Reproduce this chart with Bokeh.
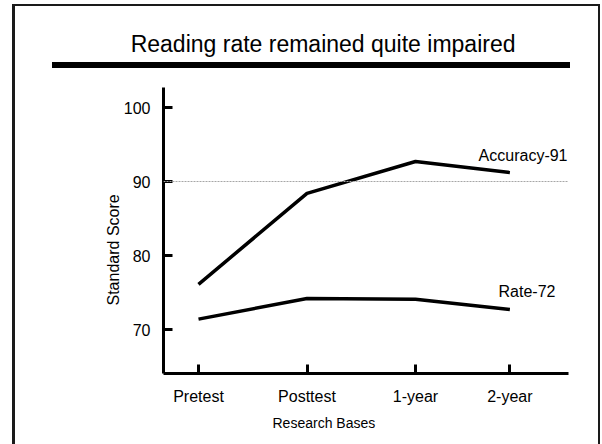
from bokeh.plotting import figure
from bokeh.models import Range1d, FixedTicker, Span, Label, Title
from bokeh.embed import file_html
from bokeh.resources import INLINE

# ---- data ----
phases = ["Pretest", "Posttest", "1-year", "2-year"]
phase_pos = [0.0, 1.0, 2.0, 2.87]
accuracy = [76.1, 88.4, 92.7, 91.2]
rate = [71.4, 74.2, 74.1, 72.7]
y_ticks = [70, 80, 90, 100]
reference_score = 90
series_names = ["Accuracy-91", "Rate-72"]
title_text = "Reading rate remained quite impaired"
x_title = "Research Bases"
y_title = "Standard Score"

FONT = "Liberation Sans"

# ---- geometry (canvas pixels) ----
W, H = 602, 444
FL, FR, FT, FB = 163, 568, 87, 373
X0_PX, X_PER = 198.0, 108.5
Y70_PX, Y_PER = 329.0, 7.4


def dx(cx):
    return (cx - X0_PX) / X_PER


def dy(cy):
    return 70 + (Y70_PX - cy) / Y_PER


# slide frame and title rule painted as CSS backgrounds behind the canvas
DARK = "#1a1a1a"
slide_styles = {
    "background-image": ", ".join([f"linear-gradient({DARK},{DARK})"] * 3
                                  + ["linear-gradient(#000,#000)"]),
    "background-position": "12px 4px, 598px 4px, 12px 4px, 52px 62px",
    "background-size": "3px 480px, 2px 480px, 588px 2px, 518px 6px",
    "background-repeat": "no-repeat",
}

p = figure(
    frame_width=FR - FL, frame_height=FB - FT,
    min_border_left=FL, min_border_right=W - FR,
    min_border_top=FT, min_border_bottom=H - FB,
    x_range=Range1d(dx(FL), dx(FR)), y_range=Range1d(dy(FB), dy(FT)),
    output_backend="svg", toolbar_location=None, tools="",
    title=title_text,
)
p.styles = slide_styles
p.outline_line_color = None
p.grid.visible = False
p.background_fill_color = "white"
p.border_fill_color = None

# slide title
p.title.align = "right"
p.title.offset = 53
p.title.vertical_align = "middle"
p.title.standoff = 59
p.title.text_font = FONT
p.title.text_font_size = "23px"
p.title.text_font_style = "normal"
p.title.text_color = "black"

# axes
for ax in (p.xaxis, p.yaxis):
    ax.axis_line_width = 3
    ax.axis_line_color = "black"
    ax.major_tick_line_width = 3
    ax.major_tick_line_color = "black"
    ax.major_tick_in = 9
    ax.major_tick_out = 0
    ax.minor_tick_line_color = None
    ax.major_label_text_font = FONT
    ax.major_label_text_font_size = "16px"
    ax.major_label_text_color = "black"

p.xaxis.ticker = FixedTicker(ticks=phase_pos)
p.xaxis.major_label_overrides = {pos: name for pos, name in zip(phase_pos, phases)}
p.xaxis.major_label_standoff = 14
p.yaxis.ticker = FixedTicker(ticks=y_ticks)
p.yaxis.major_label_standoff = 13

# axis titles
p.add_layout(Title(text=x_title, align="left", offset=109, vertical_align="top",
                   standoff=15, text_font=FONT, text_font_size="14px",
                   text_font_style="normal", text_color="black"), "below")
p.add_layout(Title(text=y_title, align="left", offset=68, vertical_align="bottom",
                   standoff=-2, text_font=FONT, text_font_size="16px",
                   text_font_style="normal", text_color="black"), "left")

# reference line
p.add_layout(Span(location=reference_score, dimension="width",
                  line_color="#a6a6a6", line_dash="2 1", line_width=1))

# series
p.line(phase_pos, accuracy, line_width=3.5, line_color="black")
p.line(phase_pos, rate, line_width=3.5, line_color="black")

# series labels
p.add_layout(Label(x=dx(567), y=dy(155), text=series_names[0], text_font=FONT,
                   text_font_size="16px", text_align="right", text_baseline="middle",
                   text_color="black"))
p.add_layout(Label(x=dx(498), y=dy(291), text=series_names[1], text_font=FONT,
                   text_font_size="16px", text_align="left", text_baseline="middle",
                   text_color="black"))

open("out.html", "w").write(file_html(p, INLINE))
